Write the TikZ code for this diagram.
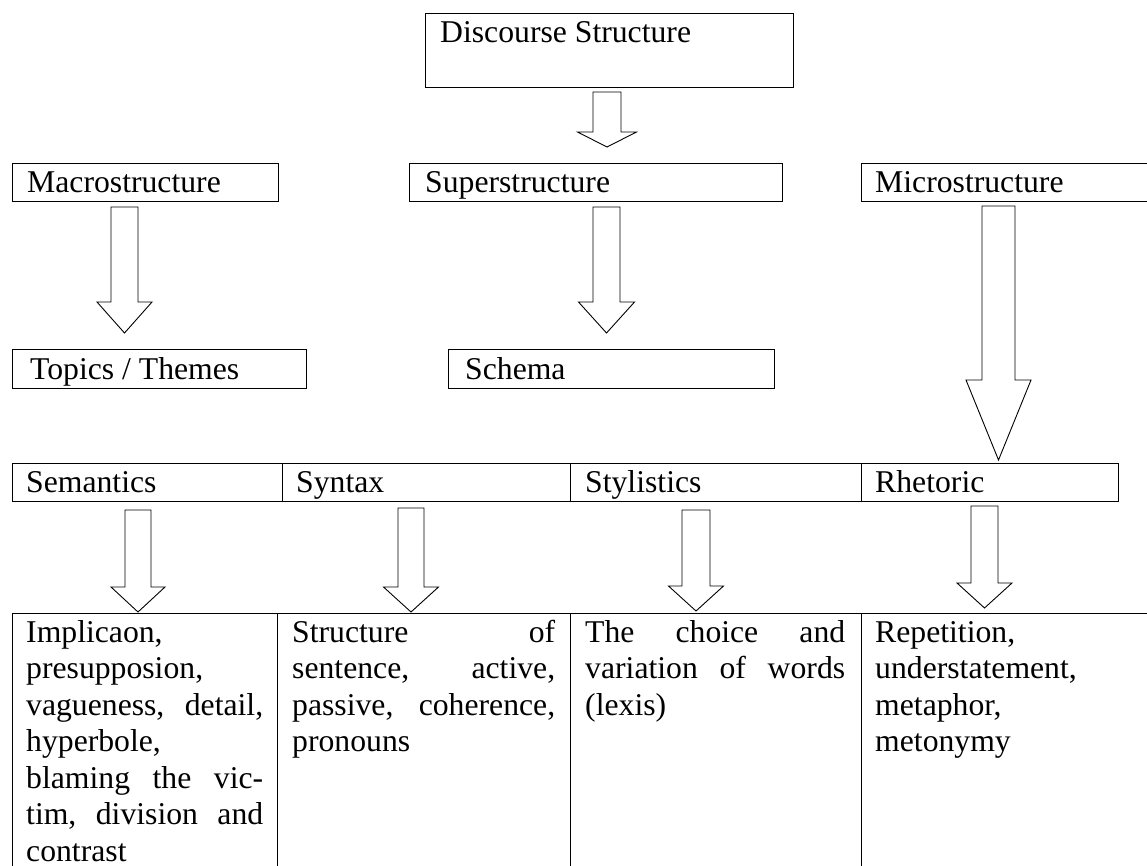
\documentclass[tikz,border=0pt]{standalone}
\usepackage{fontspec}
\setmainfont{Liberation Serif}
\newcommand\fsz{\fontsize{31.7pt}{36.5pt}\selectfont}
% block arrow: centre x, top y, shaft half width, head y, head half width, tip y
\newcommand\blockarrow[6]{%
  \draw[arr] ({#1-#3},#2) -- ({#1+#3},#2) -- ({#1+#3},#4) -- ({#1+#5},#4)
    -- (#1,#6) -- ({#1-#5},#4) -- ({#1-#3},#4) -- cycle;}
\begin{document}
\begin{tikzpicture}[x=1pt,y=-1pt,
  box/.style={draw,line width=1.3pt,rectangle,inner sep=0pt,anchor=north west},
  lbl/.style={anchor=base west,inner sep=0pt,font=\fsz},
  cell/.style={anchor=north west,inner sep=0pt,align=left,font=\fsz},
  arr/.style={draw,line width=0.9pt,fill=white,line join=miter}]
\useasboundingbox[fill=white] (0,0) rectangle (1147,866);

% top-level boxes
\node[box,minimum width=368pt,minimum height=74pt] (disc) at (425,13) {};
\node[lbl] (disc-t) at (440,43) {Discourse Structure};

\node[box,minimum width=266pt,minimum height=38pt] (macro) at (12,163) {};
\node[lbl] (macro-t) at (27,192.5) {Macrostructure};
\node[box,minimum width=373pt,minimum height=38pt] (super) at (409,163) {};
\node[lbl] (super-t) at (425,192.5) {Superstructure};
\node[box,minimum width=310pt,minimum height=38pt] (micro) at (861,163) {};
\node[lbl] (micro-t) at (875,192.5) {Microstructure};

\node[box,minimum width=294pt,minimum height=39pt] (topics) at (12,349) {};
\node[lbl] (topics-t) at (30,379.5) {Topics / Themes};
\node[box,minimum width=326pt,minimum height=39pt] (schema) at (448,349) {};
\node[lbl] (schema-t) at (465,379.5) {Schema};

% row 1
\node[box,minimum width=270pt,minimum height=38pt] (sem) at (12,463) {};
\node[box,minimum width=288pt,minimum height=38pt] (syn) at (282,463) {};
\node[box,minimum width=291pt,minimum height=38pt] (sty) at (570,463) {};
\node[box,minimum width=257pt,minimum height=38pt] (rhe) at (861,463) {};
\node[lbl] (sem-t) at (26,492.5) {Semantics};
\node[lbl] (syn-t) at (296,492.5) {Syntax};
\node[lbl] (sty-t) at (585,492.5) {Stylistics};
\node[lbl] (rhe-t) at (875,492.5) {Rhetoric};

% row 2 (runs off the bottom and right)
\node[box,minimum width=265pt,minimum height=280pt] (dsem) at (12,613) {};
\node[box,minimum width=293pt,minimum height=280pt] (dsyn) at (277,613) {};
\node[box,minimum width=291pt,minimum height=280pt] (dsty) at (570,613) {};
\node[box,minimum width=320pt,minimum height=280pt] (drhe) at (861,613) {};

\node[cell,text width=237pt] (dsem-t) at (26,616.5)
  {\strut Implicaon,\\ presupposion,\\ vagueness,\hfill detail,\\ hyperbole,\\
   blaming\hfill the\hfill vic-\\ tim,\hfill division\hfill and\\ contrast};
\node[cell,text width=263pt] (dsyn-t) at (292,616.5)
  {\strut Structure\hfill of\\ sentence,\hfill active,\\ passive,\hfill coherence,\\ pronouns};
\node[cell,text width=260pt] (dsty-t) at (585,616.5)
  {\strut The\hfill choice\hfill and\\ variation\hfill of\hfill words\\ (lexis)};
\node[cell,text width=260pt] (drhe-t) at (875,616.5)
  {\strut Repetition,\\ understatement,\\ metaphor,\\ metonymy};

% block arrows
\blockarrow{607}{92}{14}{132}{29.5}{147}
\blockarrow{124.5}{207}{13.5}{302}{27.5}{333}
\blockarrow{606.5}{207}{13.5}{302}{28}{333}
\blockarrow{998.5}{206}{16.5}{380}{32.5}{460}
\blockarrow{138}{510}{13}{587}{27}{612}
\blockarrow{411}{508}{13}{587}{27.5}{612}
\blockarrow{696}{510}{14}{586}{27.5}{611}
\blockarrow{984.5}{506}{13.5}{583}{27.5}{608}
\end{tikzpicture}
\end{document}
